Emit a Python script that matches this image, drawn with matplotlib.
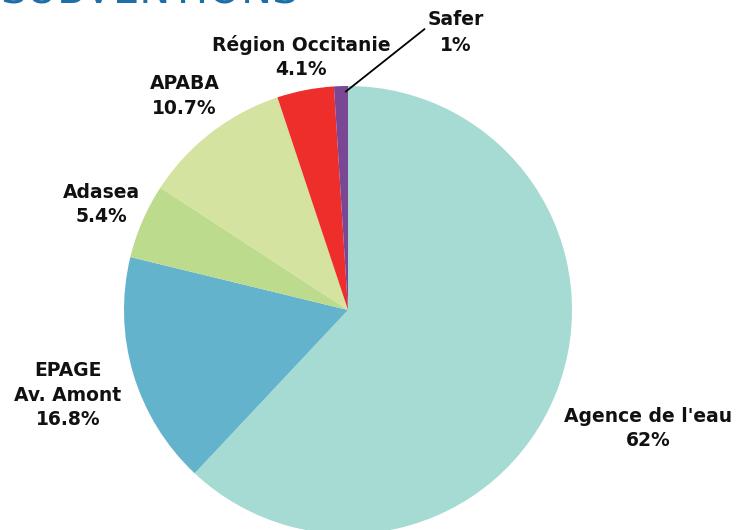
import matplotlib
matplotlib.use("Agg")
import matplotlib.pyplot as plt

categories = ["Agence de l'eau", "EPAGE\nAv. Amont", "Adasea", "APABA", "Région Occitanie", "Safer"]
values = [62, 16.8, 5.4, 10.7, 4.1, 1]
pct_labels = ["62%", "16.8%", "5.4%", "10.7%", "4.1%", "1%"]
colors = ["#a5dbd3", "#63b3cc", "#bddb8d", "#d4e3a0", "#ee2e2a", "#7a4794"]

# label positions (axes data units, pie radius = 1)
label_pos = [(1.34, -0.53), (-1.25, -0.38), (-1.10, 0.47), (-0.73, 0.955), (-0.21, 1.13), (0.48, 1.24)]

W, H = 737, 530
fig = plt.figure(figsize=(W / 100, H / 100), dpi=100)
cx, cy, r = 348, 310, 224
ax = fig.add_axes([(cx - r) / W, (H - cy - r) / H, 2 * r / W, 2 * r / H])
ax.pie(values, colors=colors, startangle=90, counterclock=False, radius=1,
       wedgeprops=dict(linewidth=0))
ax.set_xlim(-1, 1)
ax.set_ylim(-1, 1)
ax.set_aspect("equal")
ax.axis("off")

for i, (cat, pct) in enumerate(zip(categories, pct_labels)):
    x, y = label_pos[i]
    txt = f"{cat}\n{pct}"
    if cat == "Safer":
        ax.annotate(txt, xy=(-0.01, 0.975), xytext=(x, y), ha="center", va="center",
                    fontsize=13.5, fontweight="bold", color="#111111",
                    arrowprops=dict(arrowstyle="-", color="black", lw=1.3,
                                    shrinkA=0, shrinkB=0, relpos=(0.1, 0.72)),
                    annotation_clip=False, linespacing=1.45)
    else:
        ax.text(x, y, txt, ha="center", va="center", fontsize=13.5, fontweight="bold",
                color="#111111", linespacing=1.35, clip_on=False)

fig.text(0.0, 1 - 4 / H, "SUBVENTIONS", fontsize=30, color="#1e6fa8",
         ha="left", va="baseline")

fig.savefig("out.png", dpi=100)
